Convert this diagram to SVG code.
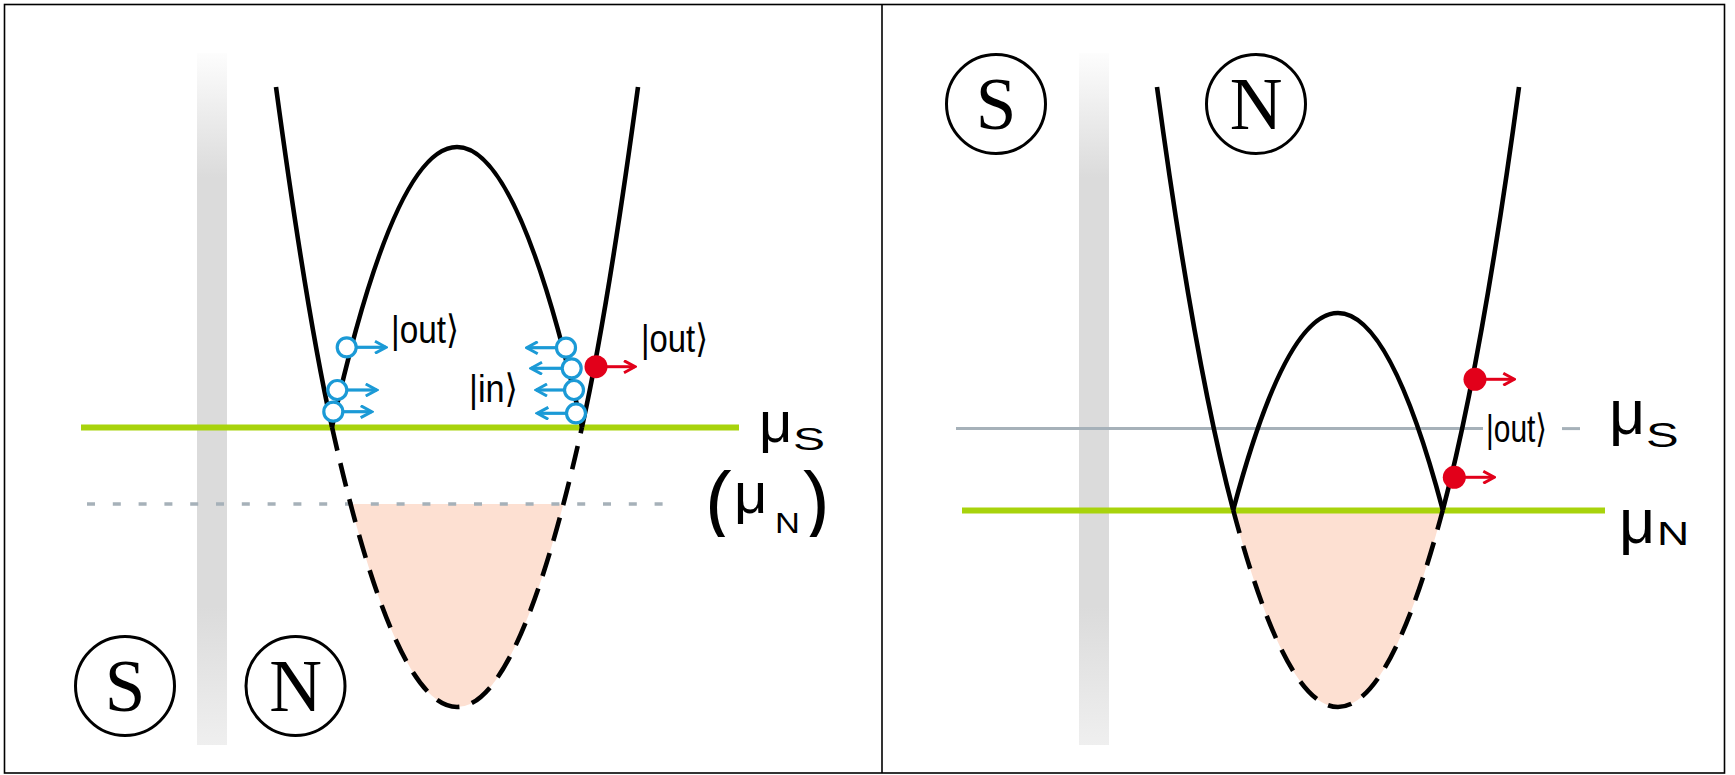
<svg xmlns="http://www.w3.org/2000/svg" width="1735" height="775" viewBox="0 0 1735 775">
  <defs>
    <linearGradient id="barGrad" x1="0" y1="0" x2="0" y2="1">
      <stop offset="0" stop-color="#fdfdfd"/>
      <stop offset="0.18" stop-color="#dbdbdb"/>
      <stop offset="0.8" stop-color="#dbdbdb"/>
      <stop offset="1" stop-color="#efefef"/>
    </linearGradient>
    <marker id="headBlue" viewBox="0 0 14 14" refX="12" refY="7" markerWidth="14" markerHeight="14" markerUnits="userSpaceOnUse" orient="auto">
      <path d="M1,1 L12,7 L1,13" fill="none" stroke="#1b9ad6" stroke-width="3"/>
    </marker>
    <marker id="headRed" viewBox="0 0 14 14" refX="12" refY="7" markerWidth="14" markerHeight="14" markerUnits="userSpaceOnUse" orient="auto">
      <path d="M1,1 L12,7 L1,13" fill="none" stroke="#e2001a" stroke-width="3"/>
    </marker>
    <clipPath id="clipMuN">
      <rect x="690" y="440" width="160" height="97"/>
    </clipPath>
  </defs>
  <style>
    .frame { fill: none; stroke: #000; stroke-width: 1.6; }
    .bar { fill: url(#barGrad); }
    .curve { fill: none; stroke: #000; stroke-width: 4.6; }
    .dash { fill: none; stroke: #000; stroke-width: 4.6; stroke-dasharray: 24 13; }
    .fill { fill: #fde0d2; stroke: none; }
    .green { stroke: #a8d30c; stroke-width: 6; }
    .grayd { stroke: #a6b1b9; stroke-width: 3.5; stroke-dasharray: 8 17.8; }
    .grays { stroke: #a6b1b9; stroke-width: 3; }
    .hole { fill: #fff; stroke: #1b9ad6; stroke-width: 3.2; }
    .barrow { stroke: #1b9ad6; stroke-width: 3.2; marker-end: url(#headBlue); }
    .elec { fill: #e2001a; }
    .rarrow { stroke: #e2001a; stroke-width: 3; marker-end: url(#headRed); }
    .ket { font-family: "Liberation Sans", "DejaVu Sans", sans-serif; font-size: 39px; fill: #000; }
    .mu { font-family: "Liberation Sans", "DejaVu Sans", sans-serif; fill: #000; }
    .node circle { fill: #fff; stroke: #000; stroke-width: 3; }
    .node text { font-family: "Liberation Serif", "Times New Roman", serif; font-size: 73px; fill: #000; text-anchor: middle; }
  </style>

  <rect id="frame" class="frame" x="4.5" y="4.5" width="1720" height="768.5"/>
  <line id="divider" x1="882" y1="4.5" x2="882" y2="773" stroke="#000" stroke-width="1.6"/>

  <!-- interface bars -->
  <rect id="bar-left" class="bar" x="197" y="53" width="30" height="692"/>
  <rect id="bar-right" class="bar" x="1079" y="53" width="30" height="692"/>

  <!-- filled Fermi seas -->
  <path id="sea-left" class="fill" d="M350.6,504 Q457,910 563.4,504 Z"/>
  <path id="sea-right" class="fill" d="M1233.2,510 Q1338,904 1442.8,510 Z"/>

  <g id="connectors">
    <!-- level lines -->
    <line class="grayd" x1="87" y1="504" x2="664" y2="504"/>
    <line class="green" x1="81" y1="427.5" x2="739" y2="427.5"/>
    <line class="grays" x1="956" y1="428.6" x2="1483" y2="428.6"/>
    <line class="grays" x1="1562" y1="428.6" x2="1580" y2="428.6"/>
    <line class="green" x1="962" y1="510.5" x2="1605" y2="510.5"/>

    <!-- left panel dispersion -->
    <path class="curve" d="M276,87 Q306.7,313.5 332,427"/>
    <path class="curve" d="M638,87 Q607.3,313.5 582,427"/>
    <path class="curve" d="M332,427 Q457,-133 582,427"/>
    <path class="dash" d="M332,427 Q457,987 582,427"/>

    <!-- right panel dispersion -->
    <path class="curve" d="M1157,87 Q1194.7,365.3 1233.2,510"/>
    <path class="curve" d="M1519,87 Q1481.3,365.3 1442.8,510"/>
    <path class="curve" d="M1233.2,510 Q1338,116 1442.8,510"/>
    <path class="dash" d="M1233.2,510 Q1338,904 1442.8,510"/>

    <!-- arrows -->
    <line class="barrow" x1="356.5" y1="347.3" x2="386" y2="347.3"/>
    <line class="barrow" x1="347" y1="390" x2="376.7" y2="390"/>
    <line class="barrow" x1="343" y1="411.7" x2="371.7" y2="411.7"/>
    <line class="barrow" x1="556.5" y1="347.7" x2="526.7" y2="347.7"/>
    <line class="barrow" x1="562" y1="368.3" x2="531" y2="368.3"/>
    <line class="barrow" x1="564.5" y1="390" x2="536" y2="390"/>
    <line class="barrow" x1="566.5" y1="413.3" x2="537.3" y2="413.3"/>
    <line class="rarrow" x1="607" y1="366.7" x2="635" y2="366.7"/>
    <line class="rarrow" x1="1486" y1="379.3" x2="1514.3" y2="379.3"/>
    <line class="rarrow" x1="1465" y1="477.3" x2="1494.3" y2="477.3"/>
  </g>

  <!-- quasiparticles -->
  <g id="holes-left">
    <circle class="hole" cx="346.7" cy="347.3" r="9.5"/>
    <circle class="hole" cx="337.3" cy="390" r="9.5"/>
    <circle class="hole" cx="333.3" cy="411.7" r="9.5"/>
    <circle class="hole" cx="566" cy="347.7" r="9.5"/>
    <circle class="hole" cx="571.7" cy="368.3" r="9.5"/>
    <circle class="hole" cx="574" cy="390" r="9.5"/>
    <circle class="hole" cx="576" cy="413.3" r="9.5"/>
  </g>
  <g id="electrons">
    <circle class="elec" cx="596" cy="366.7" r="11.5"/>
    <circle class="elec" cx="1475" cy="379.3" r="11.5"/>
    <circle class="elec" cx="1454.3" cy="477.3" r="11.5"/>
  </g>

  <!-- ket labels -->
  <g id="labels">
    <text class="ket" x="391" y="343" textLength="68" lengthAdjust="spacingAndGlyphs">|out⟩</text>
    <text class="ket" x="641" y="351.5" textLength="67" lengthAdjust="spacingAndGlyphs">|out⟩</text>
    <text class="ket" x="469" y="402" textLength="49" lengthAdjust="spacingAndGlyphs">|in⟩</text>
    <text class="ket" x="1486" y="442" textLength="61" lengthAdjust="spacingAndGlyphs">|out⟩</text>

    <text class="mu" x="759" y="442" font-size="58">μ</text>
    <text class="mu" transform="translate(793,450) scale(1.55,1)" font-size="31">S</text>
    <g clip-path="url(#clipMuN)">
      <text class="mu" x="705" y="528" font-size="80">(</text>
      <text class="mu" x="734" y="513" font-size="58">μ</text>
      <text class="mu" transform="translate(775,533) scale(1.15,1)" font-size="30">N</text>
      <text class="mu" x="803" y="528" font-size="80">)</text>
    </g>

    <text class="mu" x="1609" y="434" font-size="63">μ</text>
    <text class="mu" transform="translate(1646,447) scale(1.4,1)" font-size="35">S</text>
    <text class="mu" x="1619" y="543" font-size="63">μ</text>
    <text class="mu" transform="translate(1657,545) scale(1.35,1)" font-size="33">N</text>
  </g>

  <!-- material nodes -->
  <g id="node-S-left" class="node"><circle cx="125" cy="686" r="49.5"/><text x="125" y="710.5">S</text></g>
  <g id="node-N-left" class="node"><circle cx="295.5" cy="686" r="49.5"/><text x="295.5" y="710.5">N</text></g>
  <g id="node-S-right" class="node"><circle cx="996" cy="104" r="49.5"/><text x="996" y="128.5">S</text></g>
  <g id="node-N-right" class="node"><circle cx="1256" cy="104" r="49.5"/><text x="1256" y="128.5">N</text></g>
</svg>
